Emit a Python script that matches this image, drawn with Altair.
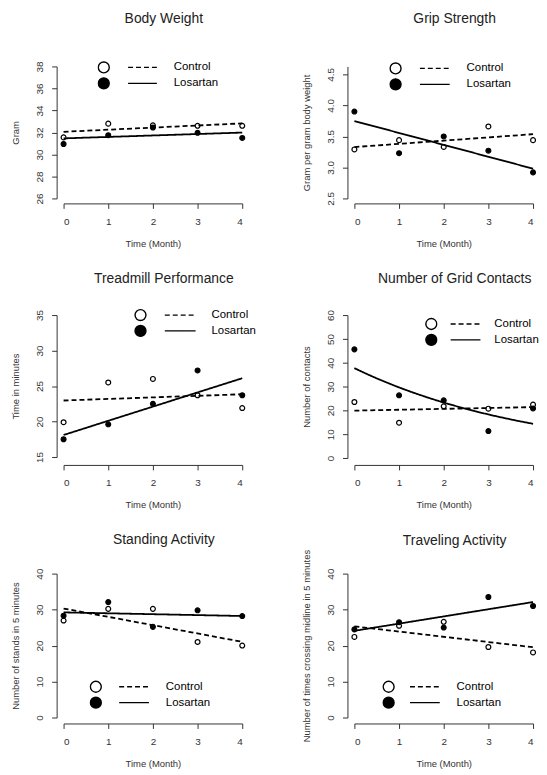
import altair as alt
import pandas as pd

# ---------------- data ----------------
months = [0, 1, 2, 3, 4]
groups = ["Control", "Losartan"]

titles = ["Body Weight", "Grip Strength", "Treadmill Performance",
          "Number of Grid Contacts", "Standing Activity", "Traveling Activity"]
y_titles = ["Gram", "Gram per gram body weight", "Time in minutes",
            "Number of contacts", "Number of stands in 5 minutes",
            "Number of times crossing midline in 5 minutes"]
x_title = "Time (Month)"

y_ticks = [
    [26, 28, 30, 32, 34, 36, 38],
    [2.5, 3.0, 3.5, 4.0, 4.5],
    [15, 20, 25, 30, 35],
    [0, 10, 20, 30, 40, 50, 60],
    [0, 10, 20, 30, 40],
    [0, 10, 20, 30, 40],
]
y_formats = ["d", ".1f", "d", "d", "d", "d"]

bw_control = [31.55, 32.8, 32.65, 32.6, 32.6]
bw_losartan = [30.95, 31.75, 32.45, 31.97, 31.5]
grip_control = [3.29, 3.44, 3.33, 3.66, 3.44]
grip_losartan = [3.90, 3.23, 3.50, 3.27, 2.92]
tread_control = [19.9, 25.5, 26.0, 23.7, 21.9]
tread_losartan = [17.5, 19.6, 22.5, 27.2, 23.7]
grid_control = [23.5, 14.8, 21.7, 20.7, 22.4]
grid_losartan = [45.6, 26.3, 24.2, 11.3, 20.8]
stand_control = [26.96, 30.2, 30.2, 21.0, 20.0]
stand_losartan = [28.3, 32.1, 25.2, 29.8, 28.2]
travel_control = [22.4, 25.5, 26.6, 19.6, 18.1]
travel_losartan = [24.5, 26.5, 25.0, 33.5, 31.0]

control = [bw_control, grip_control, tread_control, grid_control, stand_control, travel_control]
losartan = [bw_losartan, grip_losartan, tread_losartan, grid_losartan, stand_losartan, travel_losartan]
# fit type per panel: (Control, Losartan)
fit_methods = [("linear", "linear"), ("linear", "linear"), ("linear", "linear"),
               ("linear", "loglinear"), ("linear", "linear"), ("linear", "linear")]

# ---------------- layout / style ----------------
FONT = "Liberation Sans"
layout = [
    dict(h=133, ymax=38, xoff=5, toff=34, circle=(37, 1), line=(64, 93), text=108),
    dict(h=133, ymax=4.628, xoff=5, toff=35, circle=(38, 2), line=(65, 95), text=110),
    dict(h=143, ymax=35, xoff=8, toff=21, circle=(74, 0), line=(101, 132), text=146),
    dict(h=144, ymax=60, xoff=7, toff=24, circle=(74, 9), line=(96, 126), text=138),
    dict(h=145, ymax=40, xoff=6, toff=21.3, circle=(29, 114), line=(55, 85), text=100),
    dict(h=145, ymax=40, xoff=6, toff=1.1, circle=(31, 114), line=(55, 85), text=100),
]
ROW_H = 16  # legend row pitch


def make_panel(i):
    df = pd.DataFrame({
        "month": months + months,
        "value": control[i] + losartan[i],
        "group": [groups[0]] * len(months) + [groups[1]] * len(months),
    })
    lay = layout[i]
    ticks = y_ticks[i]
    xenc = alt.X("month:Q",
                 scale=alt.Scale(domain=[months[0], months[-1]], nice=False, zero=False),
                 axis=alt.Axis(values=months, title=x_title, offset=lay["xoff"], format="d",
                               labelPadding=8, titlePadding=12))
    yenc = alt.Y("value:Q",
                 scale=alt.Scale(domain=[ticks[0], lay["ymax"]], nice=False, zero=False),
                 axis=alt.Axis(values=ticks, title=y_titles[i], offset=7, format=y_formats[i],
                               labelAngle=270, labelAlign="center", labelBaseline="bottom",
                               labelPadding=7, titlePadding=14))
    cx, cy = lay["circle"]
    l0, l1 = lay["line"]
    tx = lay["text"]
    base = alt.Chart(df)
    pts = base.mark_point(shape="circle", filled=True, size=24, stroke="black",
                          strokeWidth=1.2, opacity=1).encode(
        x=xenc, y=yenc,
        fill=alt.Fill("group:N", scale=alt.Scale(domain=groups, range=["white", "black"]),
                      legend=alt.Legend(orient="none", legendX=cx - 3, legendY=cy - ROW_H / 2,
                                        title=None, labelExpr="''", symbolSize=121,
                                        symbolType="circle", symbolStrokeColor="black",
                                        symbolStrokeWidth=1.4, symbolOpacity=1, padding=0,
                                        clipHeight=ROW_H, rowPadding=0, labelFontSize=8,
                                        labelOffset=0)),
    )
    dash = alt.StrokeDash("group:N", scale=alt.Scale(range=[[5, 3], [1, 0]]),
                          legend=alt.Legend(orient="none", legendX=l0, legendY=cy - ROW_H / 2,
                                            title=None, symbolType="stroke",
                                            symbolSize=(l1 - l0) ** 2, symbolStrokeWidth=1.3,
                                            symbolStrokeColor="black", labelOffset=tx - l1 + 1,
                                            clipHeight=ROW_H, rowPadding=0, padding=0,
                                            labelFontSize=11.5, labelColor="black",
                                            labelFont=FONT))
    fits = []
    for g, m in zip(groups, fit_methods[i]):
        src = base.transform_filter(alt.datum.group == g)
        if m == "loglinear":
            # least-squares line on log(value), drawn back on the original scale
            fit = (src.transform_calculate(lv="log(datum.value)")
                   .transform_regression("month", "lv", groupby=["group"], method="poly", order=1)
                   .transform_calculate(value="exp(datum.lv)"))
        else:
            fit = src.transform_regression("month", "value", groupby=["group"], method=m)
        fits.append(
            fit.mark_line(color="black", strokeWidth=1.8)
            .encode(x=xenc, y=yenc, strokeDash=dash)
        )
    return alt.layer(pts, *fits).properties(
        width=180, height=lay["h"],
        title=alt.TitleParams(titles[i], frame="group", offset=lay["toff"], dx=11,
                              fontSize=14, font=FONT, fontWeight="normal", color="#222"),
    )


panels = [make_panel(i) for i in range(6)]

chart = (
    alt.concat(*panels, columns=2, spacing={"row": 23.5, "column": 45},
               padding={"left": 2, "top": 1, "right": 0, "bottom": 0})
    .resolve_scale(fill="independent", strokeDash="independent")
    .configure_view(strokeWidth=0)
    .configure_axis(grid=False, domainColor="#333", tickColor="#333", labelColor="#333",
                    titleColor="#333", labelFont=FONT, titleFont=FONT, labelFontSize=10,
                    titleFontSize=9.5, titleFontWeight="normal", tickSize=5)
    .configure_legend(labelFont=FONT)
)

chart.save("out.html", embed_options={"renderer": "svg", "actions": False})
